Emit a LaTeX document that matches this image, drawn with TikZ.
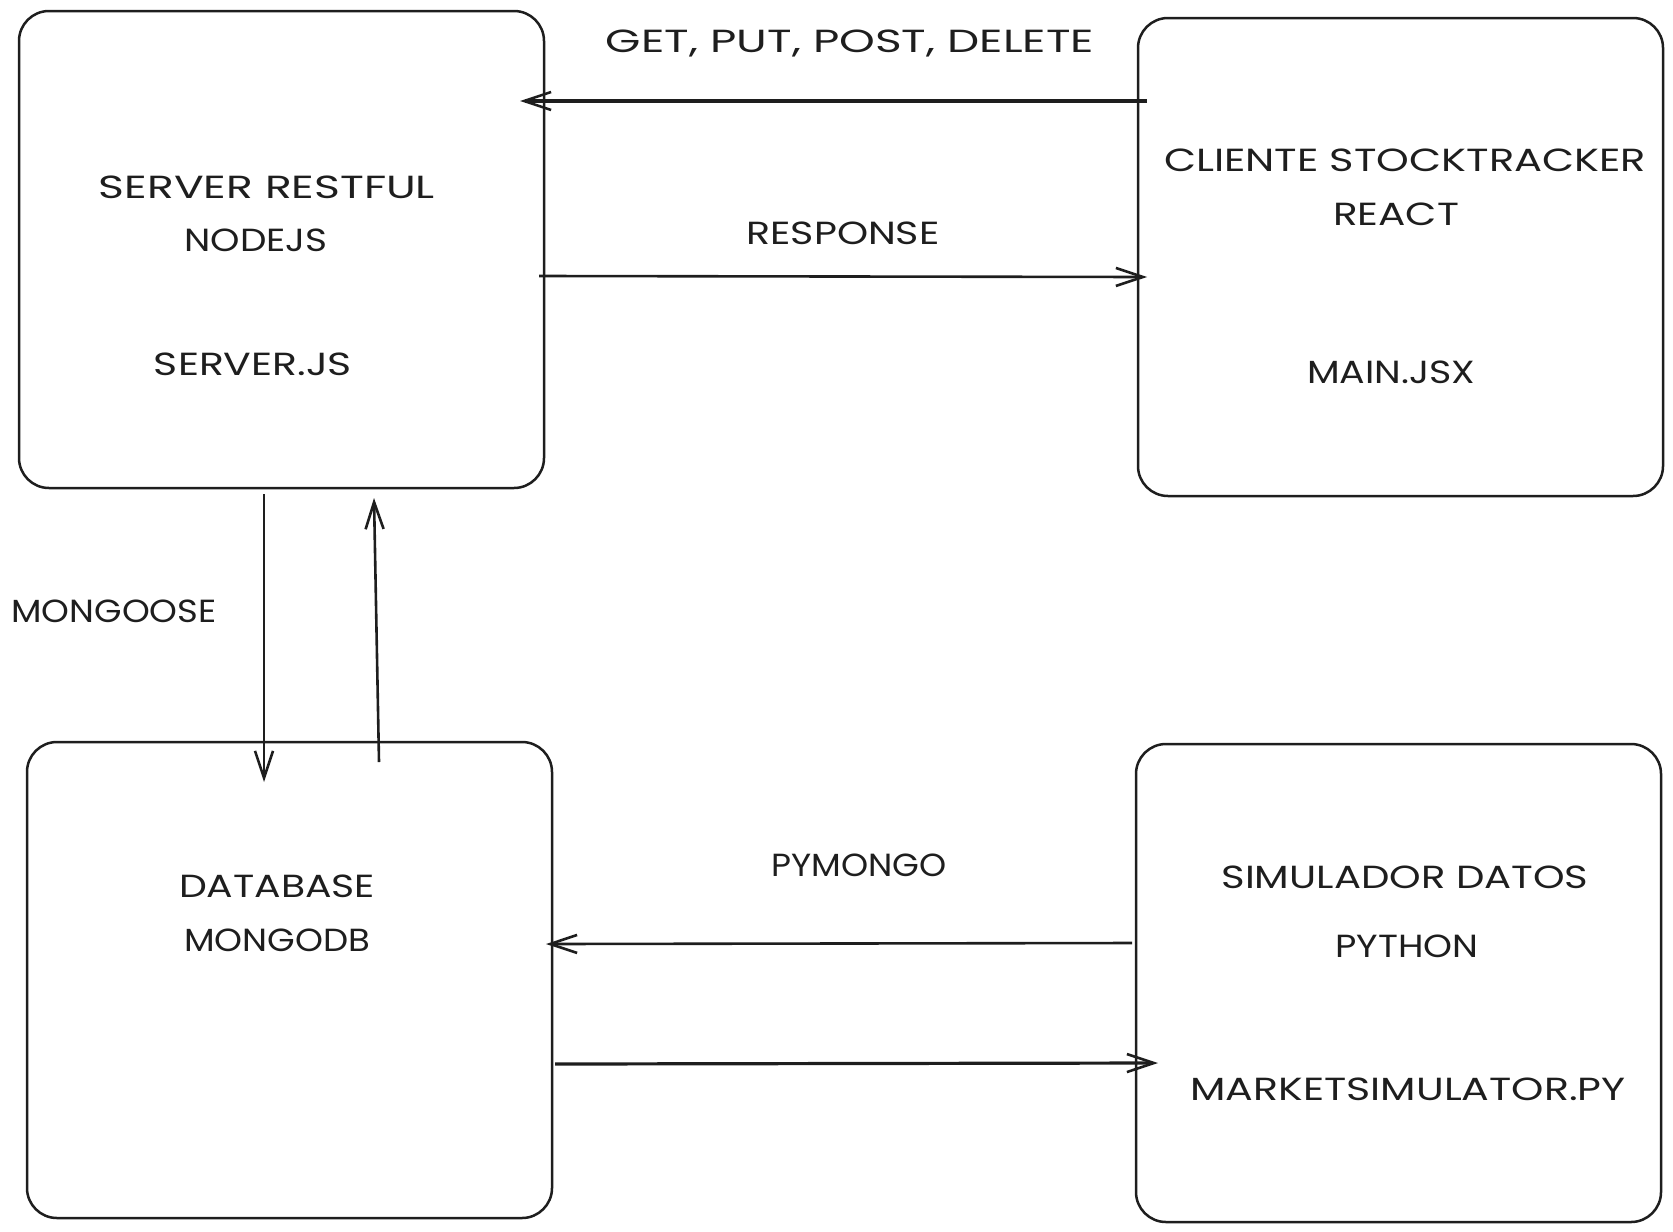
\documentclass[tikz,border=0pt]{standalone}
\usepackage{fontspec}
\usepackage{graphicx}
\setmainfont{Poppins}
\usetikzlibrary{arrows.meta}
\definecolor{ink}{HTML}{1E1E1E}
\newcommand\fitw[2]{\resizebox{#1pt}{\height}{#2}}
\begin{document}
\begin{tikzpicture}[x=0.5pt,y=-0.5pt,
  box/.style={draw=ink, line width=1.25pt, rounded corners=15pt, inner sep=0pt, minimum width=262.5pt},
  lbl/.style={text=ink, font=\fontsize{16}{19}\selectfont, inner sep=0pt, anchor=center},
  conn/.style={draw=ink, line width=1.3pt, -{Straight Barb[length=13.5pt,width=9pt,line width=1.3pt]}}]
\useasboundingbox (0,0) rectangle (1673,1231);
% boxes
\node[box, minimum height=238.5pt] (server) at (281.5,249.5) {};
\node[box, minimum height=239pt] (client) at (1400.5,257) {};
\node[box, minimum height=238pt] (db) at (289.5,980) {};
\node[box, minimum height=239pt] (sim) at (1398.5,983) {};
% box texts
\node[lbl] (s1) at (267,187) {\fitw{168}{SERVER RESTFUL}};
\node[lbl] (s2) at (256,240) {\fitw{71.5}{NODEJS}};
\node[lbl] (s3) at (253,364) {\fitw{99}{SERVER.JS}};
\node[lbl] (c1) at (1405,160) {\fitw{241}{CLIENTE STOCKTRACKER}};
\node[lbl] (c2) at (1396,214) {\fitw{63}{REACT}};
\node[lbl] (c3) at (1391,372) {\fitw{84}{MAIN.JSX}};
\node[lbl] (d1) at (277,886) {\fitw{98}{DATABASE}};
\node[lbl] (d2) at (277,940) {\fitw{93}{MONGODB}};
\node[lbl] (m1) at (1405,877) {\fitw{183.5}{SIMULADOR DATOS}};
\node[lbl] (m2) at (1407,946) {\fitw{71.5}{PYTHON}};
\node[lbl] (m3) at (1408,1089) {\fitw{217.5}{MARKETSIMULATOR.PY}};
% connector labels
\node[lbl] (lget) at (850,43) {\fitw{244}{GET, PUT, POST, DELETE}};
\node[lbl] (lresp) at (843,233) {\fitw{96.5}{RESPONSE}};
\node[lbl] (lmongoose) at (114,611) {\fitw{102.5}{MONGOOSE}};
\node[lbl] (lpymongo) at (859,865) {\fitw{87.5}{PYMONGO}};
% connector endpoints
\coordinate (getS) at (1147,101);
\coordinate (getE) at (520,101);
\coordinate (respS) at (539,276);
\coordinate (respE) at (1147,277);
\coordinate (downS) at (264,494);
\coordinate (downE) at (264,782);
\coordinate (upS) at (379,762);
\coordinate (upE) at (374,498);
\coordinate (pyS) at (1132,943);
\coordinate (pyE) at (546,944);
\coordinate (wrS) at (555,1064);
\coordinate (wrE) at (1158,1063);
% connectors
\draw[conn, line width=1.6pt] (getS) -- (getE);
\draw[conn] (respS) -- (respE);
\draw[conn] (downS) -- (downE);
\draw[conn] (upS) -- (upE);
\draw[conn] (pyS) -- (pyE);
\draw[conn, line width=1.6pt] (wrS) -- (wrE);
\end{tikzpicture}
\end{document}
